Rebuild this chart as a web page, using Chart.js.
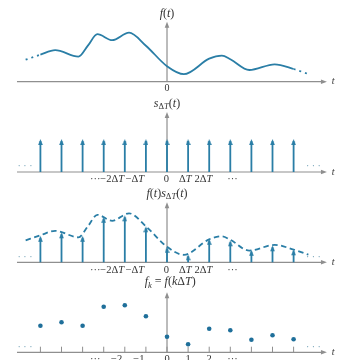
<!DOCTYPE html>
<html>
<head>
<meta charset="utf-8">
<script src="https://cdn.jsdelivr.net/npm/chart.js@4.4.1/dist/chart.umd.min.js"></script>
<style>
  html, body { margin: 0; padding: 0; background: #fff; }
  #wrap { position: relative; width: 338px; height: 360px; overflow: hidden; }
  canvas { position: absolute; left: 0; }
</style>
</head>
<body>
<div id="wrap">
  <canvas id="p1" width="338" height="92" style="top:0px"></canvas>
  <canvas id="p2" width="338" height="92" style="top:92px"></canvas>
  <canvas id="p3" width="338" height="92" style="top:184px"></canvas>
  <canvas id="p4" width="338" height="84" style="top:276px"></canvas>
</div>
<script>
// 横軸は k (ΔT 単位)、縦軸は振幅
const curveT = [-6.7, -6, -5.3, -4.2, -3.75, -3.3, -2.6, -1.8, -1, 0, 0.8, 2, 2.6, 3, 3.9, 5.1, 6, 6.7];
const curveF = [22, 27, 31.5, 25, 36, 47.5, 41.5, 49, 36, 15.5, 7.5, 23, 26, 22.5, 11.7, 17.4, 12.7, 7.7];

// サンプル点 k = -6..6
const sampleK = [-6, -5, -4, -3, -2, -1, 0, 1, 2, 3, 4, 5, 6];
const samples = [26.5, 30, 26.5, 45.5, 47, 36, 15.5, 8, 23.5, 22, 12.5, 17, 13];

// インパルス列の高さ
const combHeight = 33;

// 目盛りラベル
const tickTextT = ["···", "−2ΔT", "−ΔT", "0", "ΔT", "2ΔT", "···"];
const tickTextK = ["···", "−2", "−1", "0", "1", "2", "···"];

// レイアウト
const X_MIN = -7.915, X_MAX = 8.104;
const AXIS_LEFT = -7.11, AXIS_RIGHT = 7.58, AXIS_TOP = 60;
const tickPosT = [-3.4, -2.6, -1.52, -0.03, 0.87, 1.73, 3.1];
const tickPosK = [-3.4, -2.39, -1.33, 0, 1, 2, 3.1];
const BLUE = "#2a7ea6";
const DOT_BLUE = "#1f6f9a";
const AXIS_COLOR = "#8f8f8f";
const TEXT_COLOR = "#333";
const FONT = '"Liberation Serif", "DejaVu Serif", serif';

// 矢印の先端 (中心が先端になるように描く)
function makeArrowHead(color) {
  const c = document.createElement("canvas");
  c.width = 5;
  c.height = 14;
  const g = c.getContext("2d");
  g.fillStyle = color;
  g.beginPath();
  g.moveTo(2.5, 7);
  g.lineTo(0.2, 13);
  g.lineTo(4.8, 13);
  g.closePath();
  g.fill();
  return c;
}
const arrowHead = makeArrowHead(BLUE);

// "s_{ΔT}(t)" のような文字列を分解
function parseMath(str) {
  const parts = [];
  let i = 0;
  while (i < str.length) {
    if (str[i] === "_" && str[i + 1] === "{") {
      const end = str.indexOf("}", i);
      for (const ch of str.slice(i + 2, end)) parts.push({ ch, sub: true });
      i = end + 1;
    } else {
      parts.push({ ch: str[i], sub: false });
      i++;
    }
  }
  return parts;
}

function fontFor(p, size) {
  const s = p.sub ? size * 0.72 : size;
  const it = /[A-Za-z]/.test(p.ch) ? "italic " : "";
  return `${it}${s}px ${FONT}`;
}

function drawMath(ctx, str, cx, cy, size) {
  const parts = parseMath(str);
  let total = 0;
  parts.forEach((p) => {
    ctx.font = fontFor(p, size);
    p.w = ctx.measureText(p.ch).width;
    total += p.w;
  });
  let x = cx - total / 2;
  ctx.fillStyle = TEXT_COLOR;
  ctx.textAlign = "left";
  ctx.textBaseline = "middle";
  parts.forEach((p) => {
    ctx.font = fontFor(p, size);
    ctx.fillText(p.ch, x, cy + (p.sub ? size * 0.3 : 0));
    x += p.w;
  });
}

// 軸・ラベルを描くプラグイン
function decorPlugin(deco) {
  return {
    id: "decor",
    beforeDatasetsDraw(chart) {
      const ctx = chart.ctx;
      const xs = chart.scales.x, ys = chart.scales.y;
      const y0 = ys.getPixelForValue(0);
      const x0 = xs.getPixelForValue(0);
      const xl = xs.getPixelForValue(AXIS_LEFT);
      const xr = xs.getPixelForValue(AXIS_RIGHT);
      const yt = ys.getPixelForValue(AXIS_TOP);
      ctx.save();
      ctx.strokeStyle = AXIS_COLOR;
      ctx.fillStyle = AXIS_COLOR;
      ctx.lineWidth = 1.2;
      //横軸
      ctx.beginPath();
      ctx.moveTo(xl, y0);
      ctx.lineTo(xr - 4, y0);
      ctx.stroke();
      ctx.beginPath();
      ctx.moveTo(xr, y0);
      ctx.lineTo(xr - 6, y0 - 2.3);
      ctx.lineTo(xr - 6, y0 + 2.3);
      ctx.closePath();
      ctx.fill();
      //縦軸
      ctx.beginPath();
      ctx.moveTo(x0, y0);
      ctx.lineTo(x0, yt + 4);
      ctx.stroke();
      ctx.beginPath();
      ctx.moveTo(x0, yt);
      ctx.lineTo(x0 - 2.3, yt + 6);
      ctx.lineTo(x0 + 2.3, yt + 6);
      ctx.closePath();
      ctx.fill();
      //目盛り (f_k のみ)
      if (deco.tickMarks) {
        ctx.lineWidth = 1;
        sampleK.forEach((k) => {
          const px = xs.getPixelForValue(k);
          ctx.beginPath();
          ctx.moveTo(px, y0);
          ctx.lineTo(px, ys.getPixelForValue(5.6));
          ctx.stroke();
        });
      }
      ctx.restore();
    },
    afterDatasetsDraw(chart) {
      const ctx = chart.ctx;
      const xs = chart.scales.x, ys = chart.scales.y;
      ctx.save();
      drawMath(ctx, deco.title, xs.getPixelForValue(deco.titleX || 0), ys.getPixelForValue(deco.titleY), 12);
      drawMath(ctx, "t", xs.getPixelForValue(7.87), ys.getPixelForValue(0), 10);
      if (deco.zeroLabel) {
        drawMath(ctx, "0", xs.getPixelForValue(0), ys.getPixelForValue(-7), 10);
      }
      if (deco.ticks) {
        deco.ticks.forEach((txt, i) => {
          drawMath(ctx, txt, xs.getPixelForValue(deco.tickPos[i]), ys.getPixelForValue(deco.tickY), 10.5);
        });
      }
      if (deco.ellipsis) {
        ctx.fillStyle = "#6f9fb5";
        ctx.font = `10px ${FONT}`;
        ctx.textAlign = "center";
        ctx.textBaseline = "middle";
        const ey = ys.getPixelForValue(deco.ellipsisY);
        ctx.fillText("· · ·", xs.getPixelForValue(-6.73), ey);
        ctx.fillText("· · ·", xs.getPixelForValue(6.94), ey);
      }
      ctx.restore();
    },
  };
}

function buildPanel(id, yMin, yMax, datasets, deco) {
  return new Chart(document.getElementById(id), {
    type: "line",
    data: { datasets },
    options: {
      responsive: false,
      animation: false,
      events: [],
      layout: { padding: 0, autoPadding: false },
      scales: {
        x: { type: "linear", min: X_MIN, max: X_MAX, display: false },
        y: { type: "linear", min: yMin, max: yMax, display: false },
      },
      plugins: { legend: { display: false }, tooltip: { enabled: false } },
    },
    plugins: [decorPlugin(deco)],
  });
}

// 連続曲線
function curveDataset(dashAll) {
  const last = curveT.length - 1;
  return {
    data: curveT.map((t, i) => ({ x: t, y: curveF[i] })),
    borderColor: BLUE,
    borderWidth: 1.8,
    pointRadius: 0,
    cubicInterpolationMode: "monotone",
    borderDash: dashAll ? [5.5, 3.5] : [],
    segment: {
      borderDash: (c) =>
        dashAll ? [5.5, 3.5] : (c.p0DataIndex === 0 || c.p1DataIndex === last ? [2, 4] : []),
    },
  };
}

// インパルスの棒 (null で区切る)
function stemDataset(values) {
  const pts = [];
  sampleK.forEach((k, i) => {
    pts.push({ x: k, y: 0 }, { x: k, y: values[i] - 2 }, { x: k, y: null });
  });
  return { data: pts, borderColor: BLUE, borderWidth: 1.8, pointRadius: 0, tension: 0, spanGaps: false };
}

function headDataset(values) {
  return {
    data: sampleK.map((k, i) => ({ x: k, y: values[i] })),
    showLine: false,
    pointStyle: arrowHead,
    pointRadius: 3,
  };
}

const comb = sampleK.map(() => combHeight);

buildPanel("p1", -10.3, 81.7, [curveDataset(false)], {
  title: "f(t)", titleY: 68.2, zeroLabel: true,
});

buildPanel("p2", -12, 80, [stemDataset(comb), headDataset(comb)], {
  title: "s_{ΔT}(t)", titleY: 68.5, ticks: tickTextT, tickPos: tickPosT, tickY: -7.5,
  ellipsis: true, ellipsisY: 6,
});

buildPanel("p3", -13.7, 78.3, [curveDataset(true), stemDataset(samples), headDataset(samples)], {
  title: "f(t)s_{ΔT}(t)", titleY: 68.8, ticks: tickTextT, tickPos: tickPosT, tickY: -7.7,
  ellipsis: true, ellipsisY: 5.3,
});

buildPanel("p4", -7.7, 76.3, [{
  data: sampleK.map((k, i) => ({ x: k, y: samples[i] })),
  showLine: false,
  pointRadius: 2.3,
  pointBackgroundColor: DOT_BLUE,
  pointBorderWidth: 0,
}], {
  title: "f_{k} = f(kΔT)", titleX: 0.15, titleY: 70.3, ticks: tickTextK, tickPos: tickPosK, tickY: -7.4,
  ellipsis: true, ellipsisY: 5.3, tickMarks: true,
});
</script>
</body>
</html>
